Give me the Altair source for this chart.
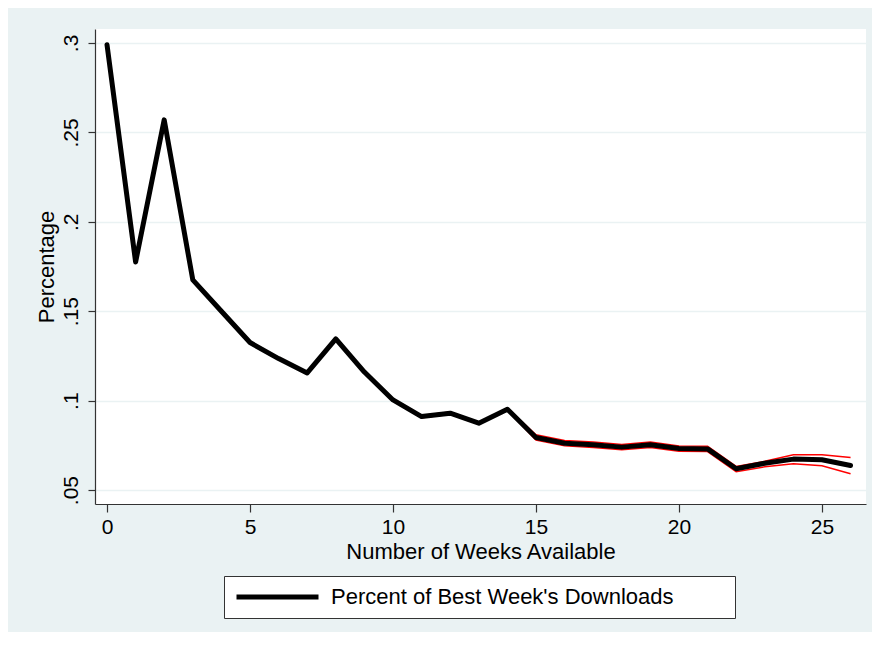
import altair as alt
import pandas as pd

weeks = list(range(27))
pct = [0.299, 0.1775, 0.257, 0.1675, 0.150, 0.1325, 0.1235, 0.1155, 0.1345, 0.116,
       0.1004, 0.0911, 0.093, 0.0874, 0.0952, 0.0794, 0.0762, 0.0753, 0.0740, 0.0753,
       0.0732, 0.0730, 0.0619, 0.0650, 0.0673, 0.0669, 0.0637]
upper = [0.2996, 0.1781, 0.2576, 0.1681, 0.1506, 0.1331, 0.1241, 0.1161, 0.1351, 0.1166,
         0.1010, 0.0917, 0.0936, 0.0880, 0.0958, 0.0809, 0.0777, 0.0768, 0.0755, 0.0768,
         0.0747, 0.0745, 0.0632, 0.0661, 0.0697, 0.0697, 0.0682]
lower = [0.2984, 0.1769, 0.2564, 0.1669, 0.1494, 0.1319, 0.1229, 0.1149, 0.1339, 0.1154,
         0.0998, 0.0905, 0.0924, 0.0868, 0.0946, 0.0779, 0.0747, 0.0738, 0.0725, 0.0738,
         0.0717, 0.0715, 0.0602, 0.0630, 0.0647, 0.0636, 0.0591]
series_name = "Percent of Best Week's Downloads"
y_ticks = [0.05, 0.1, 0.15, 0.2, 0.25, 0.3]
x_ticks = [0, 5, 10, 15, 20, 25]

df = pd.DataFrame({"week": weeks, "pct": pct, "upper": upper, "lower": lower,
                   "series": [series_name] * len(weeks)})

FONT = "Liberation Sans"
BG = "#EAF2F3"

x_enc = alt.X("week:Q",
              scale=alt.Scale(domain=[-0.42, 26.54], nice=False, zero=False),
              axis=alt.Axis(values=x_ticks, format="d", title="Number of Weeks Available",
                            grid=False, tickSize=8, labelPadding=4,
                            titleBaseline="alphabetic", titleY=54))

def y_enc(field):
    return alt.Y(f"{field}:Q",
                 scale=alt.Scale(domain=[0.0422, 0.3078], nice=False, zero=False),
                 axis=alt.Axis(values=y_ticks, title="Percentage",
                               labelExpr="replace(format(datum.value, '.2~f'), '0.', '.')",
                               labelAngle=270, labelAlign="center", labelBaseline="middle",
                               labelPadding=17, tickSize=7, grid=True,
                               titleBaseline="alphabetic", titleX=-42))

base = alt.Chart(df)
up_line = base.mark_line(color="#FF0000", strokeWidth=1.5).encode(x=x_enc, y=y_enc("upper"))
lo_line = base.mark_line(color="#FF0000", strokeWidth=1.5).encode(x=x_enc, y=y_enc("lower"))
main_line = base.mark_line(strokeWidth=5, strokeCap="round", strokeJoin="round").encode(
    x=x_enc, y=y_enc("pct"),
    color=alt.Color("series:N", scale=alt.Scale(range=["#000000"]),
                    legend=alt.Legend(title="\u00a0", titleOrient="right", titlePadding=51,
                                      titleFontSize=10,
                                      orient="none", legendX=129, legendY=547,
                                      symbolType="stroke", symbolSize=6724,
                                      symbolStrokeWidth=5, labelOffset=10,
                                      clipHeight=22, labelLimit=700,
                                      labelFontSize=22, labelFont=FONT, labelColor="#000",
                                      fillColor="#FFFFFF", strokeColor="#333333",
                                      padding=10))
)

chart = alt.layer(up_line, lo_line, main_line).properties(
    width=771, height=475,
    autosize=alt.AutoSizeParams(type="none"),
    padding={"left": 87, "top": 21, "right": 6, "bottom": 128},
    background=BG,
).configure_view(stroke=None, fill="#FFFFFF").configure_axis(
    labelFont=FONT, titleFont=FONT, labelFontSize=21, titleFontSize=22,
    labelColor="#000", titleColor="#000", titleFontWeight="normal",
    domainColor="#333333", tickColor="#333333", domainWidth=1.2, tickWidth=1.2,
    gridColor=BG, gridWidth=1.5,
)

chart.save("out.html", embed_options={"renderer": "svg", "actions": False})
